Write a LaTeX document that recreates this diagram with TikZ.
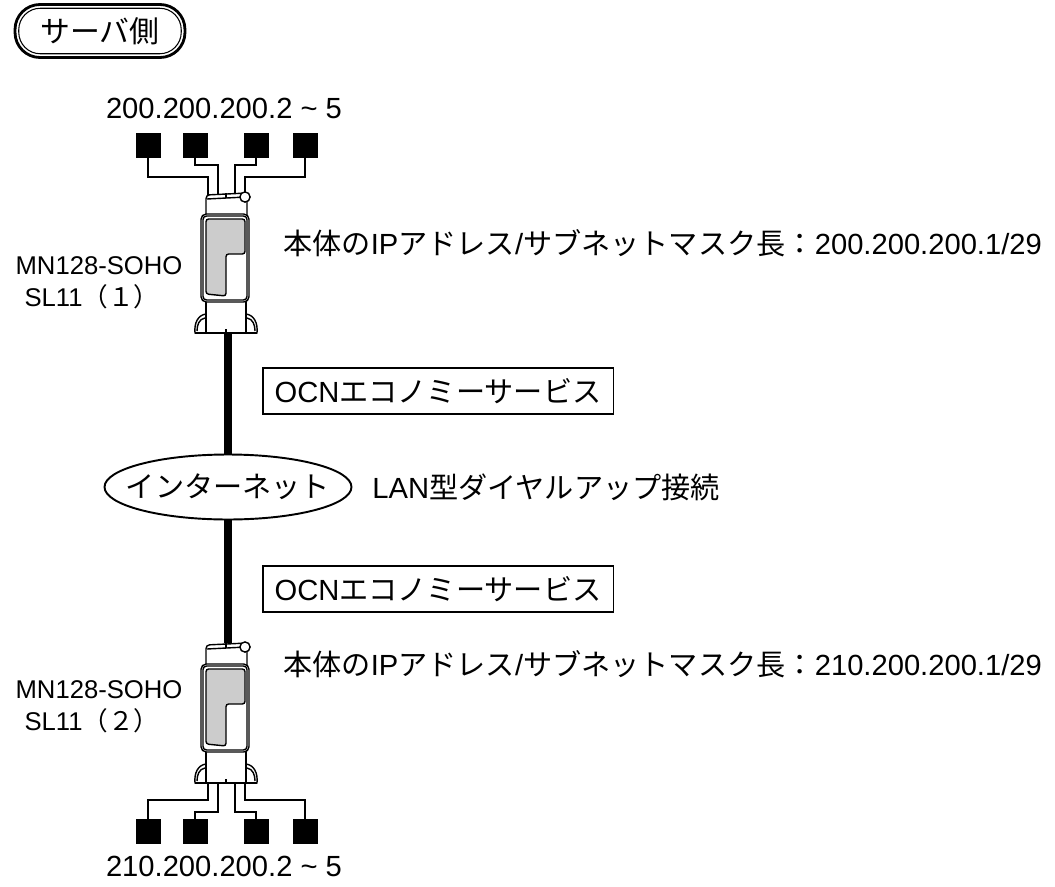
\documentclass[tikz,border=0pt]{standalone}
\usepackage{fontspec}
\setmainfont{Liberation Sans}
\newfontfamily\jp{Noto Sans CJK JP}
\usetikzlibrary{positioning, shapes.geometric}

\definecolor{screen}{RGB}{204,204,204}

\tikzset{
  wire/.style={line width=1.2pt},
  trunk/.style={line width=4pt},
  terminal/.style={draw, fill=black, minimum size=0.48cm, inner sep=0pt},
  txt/.style={font=\fontsize{16.6}{18}\selectfont, inner sep=0pt},
  small/.style={font=\fontsize{14.6}{16}\selectfont, inner sep=0pt},
  svcbox/.style={draw, line width=1.1pt, minimum width=7.02cm,
    minimum height=0.92cm, inner sep=0pt, font=\fontsize{16.6}{18}\selectfont},
  % the SL11 box, drawn upright with its origin at the top of the cap
  router/.pic={
    \begin{scope}[line width=0.8pt]
      % ears at the foot
      \draw[fill=white] (-22,122) .. controls (-30,123) and (-34,131) .. (-33,141)
        -- (-22,141) -- cycle;
      \draw (-23,126) .. controls (-29,127) and (-31,133) .. (-31,139);
      \draw[fill=white] (18,122) .. controls (26,123) and (30,131) .. (29,141)
        -- (18,141) -- cycle;
      \draw (19,126) .. controls (25,127) and (27,133) .. (27,139);
      % lower part
      \draw[fill=white] (-22,106) rectangle (18,141);
      \draw (-33,141) -- (29,141);
      \draw (-2,137) -- (-2,141);
      % cap
      \draw[fill=white, rounded corners=2pt] (-22,24) -- (-22,3) -- (19,1) -- (19,24);
      \draw (-21,7) -- (18,5);
      \draw (-2,1) -- (-2,6);
      % body and screen
      \draw[fill=white, rounded corners=3pt] (-27,22) rectangle (21,110);
      \draw[rounded corners=2pt] (-25,24) rectangle (19,108);
      \draw[fill=screen, rounded corners=1.5pt] (-22,27) -- (17,27) -- (17,62)
        -- (-2,62) -- (-2,104) -- (-22,102) -- cycle;
      % lamp
      \draw[fill=white] (17,5) circle[radius=2.9pt];
    \end{scope}
    \coordinate (-top) at (0,1);
    \coordinate (-bot) at (0,141);
    \coordinate (-p1) at (-20,3);
    \coordinate (-p2) at (-10,2);
    \coordinate (-p3) at (7,2);
    \coordinate (-p4) at (17,0);
    \coordinate (-q1) at (-20,141);
    \coordinate (-q2) at (-10,141);
    \coordinate (-q3) at (7,141);
    \coordinate (-q4) at (17,141);
  }
}

\begin{document}
\begin{tikzpicture}[x=0.02cm, y=-0.02cm]
  \useasboundingbox (0,0) rectangle (1055,886);

  % heading
  \node[draw, line width=1.6pt, rounded corners=0.5cm, minimum width=3.4cm,
        minimum height=1.06cm, inner sep=0pt, font=\fontsize{17}{19}\selectfont]
    (side) at (100,31) {\jp サーバ側};
  \node[draw, line width=0.6pt, rounded corners=0.43cm, minimum width=3.25cm,
        minimum height=0.91cm, inner sep=0pt] (sideinner) at (side.center) {};

  % trunk lines through the internet
  \node[draw, ellipse, line width=1.1pt, minimum width=4.94cm, minimum height=1.3cm,
        inner sep=0pt] (inet) at (228,487) {};
  \node[txt] (inetname) at (inet.center) {\jp インターネット};
  \coordinate (t1) at (228,334);
  \coordinate (t2) at (228,643);
  \draw[trunk] (t1) -- (inet);
  \draw[trunk] (inet) -- (t2);

  % routers
  \pic (r1) at (228,192) {router};
  \pic (r2) at (228,642) {router};

  % LAN terminals, upper side
  \node[terminal] (pcA1) at (148,145) {};
  \node[terminal] (pcA2) at (195,145) {};
  \node[terminal] (pcA3) at (256,145) {};
  \node[terminal] (pcA4) at (305,145) {};
  \draw[wire] (pcA1.south) -- ++(0,20) -| (r1-p1);
  \draw[wire] (pcA2.south) -- ++(0,8) -| (r1-p2);
  \draw[wire] (pcA3.south) -- ++(0,8) -| (r1-p3);
  \draw[wire] (pcA4.south) -- ++(0,20) -| (r1-p4);

  % LAN terminals, lower side
  \node[terminal] (pcB1) at (148,831) {};
  \node[terminal] (pcB2) at (195,831) {};
  \node[terminal] (pcB3) at (256,831) {};
  \node[terminal] (pcB4) at (305,831) {};
  \draw[wire] (pcB1.north) -- ++(0,-19) -| (r2-q1);
  \draw[wire] (pcB2.north) -- ++(0,-7) -| (r2-q2);
  \draw[wire] (pcB3.north) -- ++(0,-7) -| (r2-q3);
  \draw[wire] (pcB4.north) -- ++(0,-19) -| (r2-q4);

  % addresses
  \node[txt] (lanA) at (224,108) {200.200.200.2 \textasciitilde{} 5};
  \node[txt] (lanB) at (224,866) {210.200.200.2 \textasciitilde{} 5};
  \node[txt, anchor=west] (ipA) at (283,243)
    {{\jp 本体の}IP{\jp アドレス}/{\jp サブネットマスク長：}200.200.200.1/29};
  \node[txt, anchor=west] (ipB) at (283,664)
    {{\jp 本体の}IP{\jp アドレス}/{\jp サブネットマスク長：}210.200.200.1/29};

  % model names
  \node[small] (nameA) at (99,266) {MN128-SOHO};
  \node[small] (unitA) at (92,297) {SL11{\jp （１）}};
  \node[small] (nameB) at (99,690) {MN128-SOHO};
  \node[small] (unitB) at (92,721) {SL11{\jp （２）}};

  % service boxes and dial-up note
  \node[svcbox] (ocnA) at (438,391) {OCN{\jp エコノミーサービス}};
  \node[svcbox] (ocnB) at (438,589) {OCN{\jp エコノミーサービス}};
  \node[txt, anchor=west] (dial) at (372,487) {LAN{\jp 型ダイヤルアップ接続}};
\end{tikzpicture}
\end{document}
